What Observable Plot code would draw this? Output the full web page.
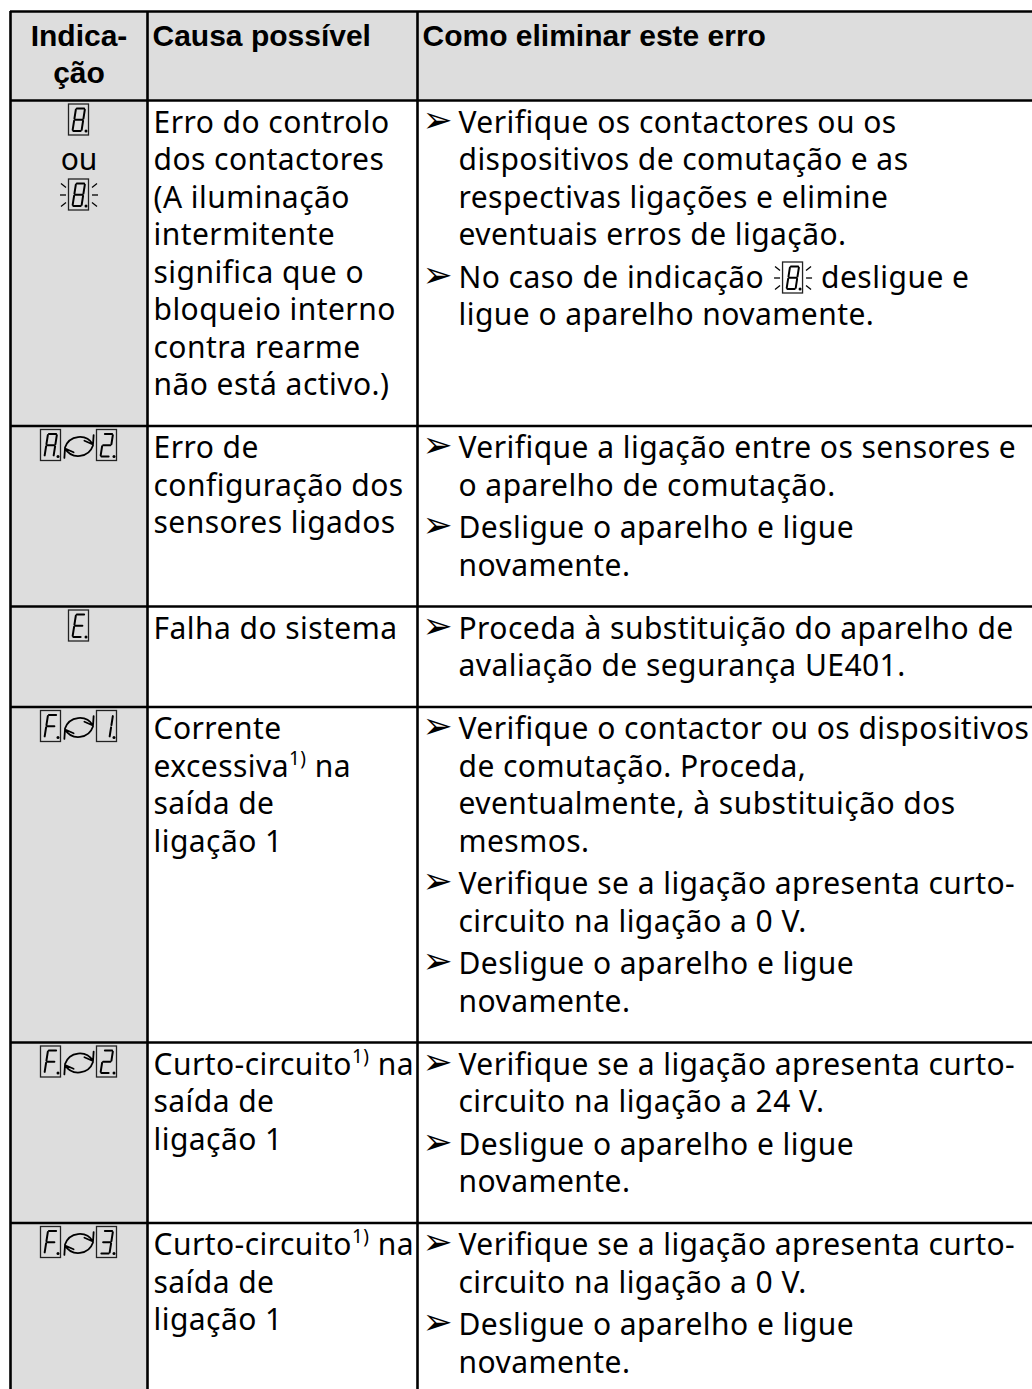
<!DOCTYPE html>
<html><head><meta charset="utf-8">
<script src="https://cdn.jsdelivr.net/npm/d3@7"></script>
<script src="https://cdn.jsdelivr.net/npm/@observablehq/plot@0.6"></script>
<style>html,body{margin:0;padding:0;background:#fff}#chart{width:1032px;height:1389px;overflow:hidden}</style>
</head><body><div id="chart"></div>
<script>
// ---------------- DATA ----------------
const headerIndication = ["Indica-", "ção"];
const headerCause = "Causa possível";
const headerRemedy = "Como eliminar este erro";

// display codes shown by the 7-segment indicator (two codes = alternating)
const indicatorCodes = [["8"], ["A", "2"], ["E"], ["F", "1"], ["F", "2"], ["F", "3"]];
const indicatorAlternativeWord = "ou"; // row 1: "8" ou blinking "8"

const causes = [
  ["Erro do controlo", "dos contactores", "(A iluminação", "intermitente", "significa que o", "bloqueio interno", "contra rearme", "não está activo.)"],
  ["Erro de", "configuração dos", "sensores ligados"],
  ["Falha do sistema"],
  ["Corrente", "excessiva¹⁾ na", "saída de", "ligação 1"],
  ["Curto-circuito¹⁾ na", "saída de", "ligação 1"],
  ["Curto-circuito¹⁾ na", "saída de", "ligação 1"]
];

const BLINK8 = "{8}"; // inline blinking indicator inside a remedy line
const remedies = [
  [["Verifique os contactores ou os", "dispositivos de comutação e as", "respectivas ligações e elimine", "eventuais erros de ligação."],
   ["No caso de indicação {8} desligue e", "ligue o aparelho novamente."]],
  [["Verifique a ligação entre os sensores e", "o aparelho de comutação."],
   ["Desligue o aparelho e ligue", "novamente."]],
  [["Proceda à substituição do aparelho de", "avaliação de segurança UE401."]],
  [["Verifique o contactor ou os dispositivos", "de comutação. Proceda,", "eventualmente, à substituição dos", "mesmos."],
   ["Verifique se a ligação apresenta curto-", "circuito na ligação a 0 V."],
   ["Desligue o aparelho e ligue", "novamente."]],
  [["Verifique se a ligação apresenta curto-", "circuito na ligação a 24 V."],
   ["Desligue o aparelho e ligue", "novamente."]],
  [["Verifique se a ligação apresenta curto-", "circuito na ligação a 0 V."],
   ["Desligue o aparelho e ligue", "novamente."]]
];

// ---------------- LAYOUT / STYLE ----------------
const W = 1032, H = 1389;
const X0 = 10, C1 = 147, C2 = 417, XR = 1045;
const TOP = 11, HEAD_H = 89;
const LH = 37.5, GAP = 5, PAD_T = 32, PAD_B = 31;
const FS = 30, LS = 0.45, BODY_FONT = "'Noto Sans', sans-serif", HEAD_FONT = "'Liberation Sans', Arial, sans-serif";
const GRAY = "#dddddd";
const BW = 20, BH = 31;
const CX1 = (X0 + C1) / 2;

// rows
const rows = [];
{
  let y = TOP + HEAD_H;
  causes.forEach((c, i) => {
    const rem = remedies[i];
    const nRem = rem.flat().length;
    const remExt = (nRem - 1) * LH + (rem.length - 1) * GAP;
    const causeExt = (c.length - 1) * LH;
    const h = PAD_T + Math.max(remExt, causeExt) + PAD_B;
    rows.push({top: y, h});
    y += h;
  });
}
const rowBorders = [TOP, TOP + HEAD_H, ...rows.slice(1).map(r => r.top)];

// text measuring (matches the body font + letter spacing)
const ctx = document.createElement("canvas").getContext("2d");
ctx.font = `${FS}px 'Noto Sans'`;
const measure = s => ctx.measureText(s).width + LS * s.length;

const bodyText = [];
const bullets = [];
causes.forEach((lines, i) => lines.forEach((t, j) => bodyText.push({x: C1 + 6, y: rows[i].top + PAD_T + j * LH, text: t})));

// icon geometry
const boxes = [], segs = [], dots = [], arrows = [], rays = [];
const SEG = {a: [[0, 0], [1, 0]], b: [[1, 0], [1, .5]], c: [[1, .5], [1, 1]], d: [[0, 1], [1, 1]], e: [[0, .5], [0, 1]], f: [[0, 0], [0, .5]], g: [[0, .5], [1, .5]]};
const GLYPH = {"8": "abcdefg", "A": "abcefg", "2": "abdeg", "E": "adefg", "F": "aefg", "1": "bc", "3": "abcdg"};
function addDigit(ch, cx, top, blink) {
  const bx = cx - BW / 2, by = top;
  boxes.push({x1: bx, x2: bx + BW, y1: by, y2: by + BH});
  const px = (u, v) => bx + 3.5 + u * 9 + (1 - v) * 3.5;
  const py = v => by + 4 + v * (BH - 8.5);
  for (const s of GLYPH[ch]) {
    const [[u1, v1], [u2, v2]] = SEG[s];
    const t0 = 0.1, t1 = 0.9;
    const ua = u1 + (u2 - u1) * t0, va = v1 + (v2 - v1) * t0;
    const ub = u1 + (u2 - u1) * t1, vb = v1 + (v2 - v1) * t1;
    segs.push({x1: px(ua, va), y1: py(va), x2: px(ub, vb), y2: py(vb)});
  }
  dots.push({x: bx + BW - 3, y: by + BH - 4.5});
  if (blink) {
    const cy = by + BH / 2;
    for (const sgn of [-1, 1]) {
      const edge = sgn < 0 ? bx : bx + BW;
      rays.push({x1: edge + sgn * 3, y1: cy, x2: edge + sgn * 9, y2: cy});
      rays.push({x1: edge + sgn * 3, y1: by + 8, x2: edge + sgn * 8, y2: by + 4});
      rays.push({x1: edge + sgn * 3, y1: by + BH - 8, x2: edge + sgn * 8, y2: by + BH - 4});
    }
  }
}
function addIcon(codes, cx, top, blink) {
  if (codes.length === 1) addDigit(codes[0], cx, top, blink);
  else {
    addDigit(codes[0], cx - 28, top, blink);
    addDigit(codes[1], cx + 28, top, blink);
    const cy = top + BH / 2;
    arrows.push({x1: cx - 14, y1: cy + 2, x2: cx + 14, y2: cy - 1});
    arrows.push({x1: cx + 14, y1: cy, x2: cx - 14, y2: cy + 3});
  }
}

// column 1 indicators
const col1Words = [];
indicatorCodes.forEach((codes, i) => {
  const top = rows[i].top + 4;
  addIcon(codes, CX1, top, false);
  if (i === 0) {
    col1Words.push({x: CX1, y: rows[i].top + PAD_T + LH, text: indicatorAlternativeWord});
    addIcon(codes, CX1, top + 2 * LH, true);
  }
});

// remedies
const TX = C2 + 41;
remedies.forEach((rem, i) => {
  let k = 0;
  rem.forEach((lines, b) => {
    lines.forEach((t, j) => {
      const y = rows[i].top + PAD_T + k * LH + b * GAP;
      if (j === 0) bullets.push({x: C2 + 5, y: y - 1, text: "➢"});
      if (t.includes(BLINK8)) {
        const [a, c] = t.split(BLINK8).map(s => s.trim());
        const wa = measure(a);
        const icx = TX + wa + 10 + 9 + BW / 2;
        bodyText.push({x: TX, y, text: a});
        addDigit("8", icx, y - 25, true);
        bodyText.push({x: icx + BW / 2 + 9 + 9, y, text: c});
      } else {
        bodyText.push({x: TX, y, text: t});
      }
      k++;
    });
  });
});

const headCenter = [
  {x: CX1, y: TOP + 34, text: headerIndication[0]},
  {x: CX1, y: TOP + 34 + LH, text: headerIndication[1]}
];
const headLeft = [
  {x: C1 + 5, y: TOP + 34, text: headerCause},
  {x: C2 + 5, y: TOP + 34, text: headerRemedy}
];

const bgRects = [
  {x1: X0, x2: XR, y1: TOP, y2: TOP + HEAD_H},
  {x1: X0, x2: C1, y1: TOP + HEAD_H, y2: H + 20}
];

const headStyle = {x: "x", y: "y", text: "text", lineAnchor: "bottom", fontFamily: HEAD_FONT, fontWeight: "bold", fontSize: 30, fill: "#000"};

const svg = Plot.plot({
  width: W, height: H, margin: 0,
  x: {domain: [0, W], range: [0, W], axis: null},
  y: {domain: [0, H], range: [0, H], axis: null},
  style: {background: "#fff", overflow: "hidden"},
  marks: [
    Plot.rect(bgRects, {x1: "x1", x2: "x2", y1: "y1", y2: "y2", fill: GRAY}),
    Plot.ruleY(rowBorders, {y: d => d, x1: X0, x2: XR, stroke: "#000", strokeWidth: 2.6}),
    Plot.ruleX([X0, C1, C2], {x: d => d, y1: TOP, y2: H + 20, stroke: "#000", strokeWidth: 2.6}),
    Plot.text(headCenter, {...headStyle, textAnchor: "middle"}),
    Plot.text(headLeft, {...headStyle, textAnchor: "start"}),
    Plot.text(bodyText, {x: "x", y: "y", text: "text", textAnchor: "start", lineAnchor: "bottom", fontFamily: BODY_FONT, fontSize: FS, fill: "#000", className: "body"}),
    Plot.text(col1Words, {x: "x", y: "y", text: "text", textAnchor: "middle", lineAnchor: "bottom", fontFamily: BODY_FONT, fontSize: FS, fill: "#000"}),
    Plot.text(bullets, {x: "x", y: "y", text: "text", textAnchor: "start", lineAnchor: "bottom", fontFamily: "'DejaVu Sans'", fontSize: 36, fill: "#000"}),
    Plot.rect(boxes, {x1: "x1", x2: "x2", y1: "y1", y2: "y2", fill: "none", stroke: "#222", strokeWidth: 1.3}),
    Plot.link(segs, {x1: "x1", y1: "y1", x2: "x2", y2: "y2", stroke: "#000", strokeWidth: 2, strokeLinecap: "round"}),
    Plot.dot(dots, {x: "x", y: "y", r: 1.5, fill: "#000", stroke: null}),
    Plot.link(rays, {x1: "x1", y1: "y1", x2: "x2", y2: "y2", stroke: "#000", strokeWidth: 1.3}),
    Plot.arrow(arrows, {x1: "x1", y1: "y1", x2: "x2", y2: "y2", bend: 65, headLength: 8, headAngle: 70, stroke: "#000", strokeWidth: 1.8})
  ]
});

// body letter spacing
svg.querySelectorAll("g.body text").forEach(t => t.setAttribute("letter-spacing", LS));

// superscript footnote markers
const NS = "http://www.w3.org/2000/svg";
svg.querySelectorAll("text").forEach(t => {
  const s = t.textContent;
  if (!s.includes("¹⁾")) return;
  const [a, b] = s.split("¹⁾");
  while (t.firstChild) t.removeChild(t.firstChild);
  const t1 = document.createElementNS(NS, "tspan"); t1.textContent = a;
  const t2 = document.createElementNS(NS, "tspan"); t2.textContent = "1)"; t2.setAttribute("font-size", "19"); t2.setAttribute("dy", "-12");
  const t3 = document.createElementNS(NS, "tspan"); t3.textContent = b; t3.setAttribute("dy", "12");
  t.append(t1, t2, t3);
});
document.getElementById("chart").appendChild(svg);
</script></body></html>
